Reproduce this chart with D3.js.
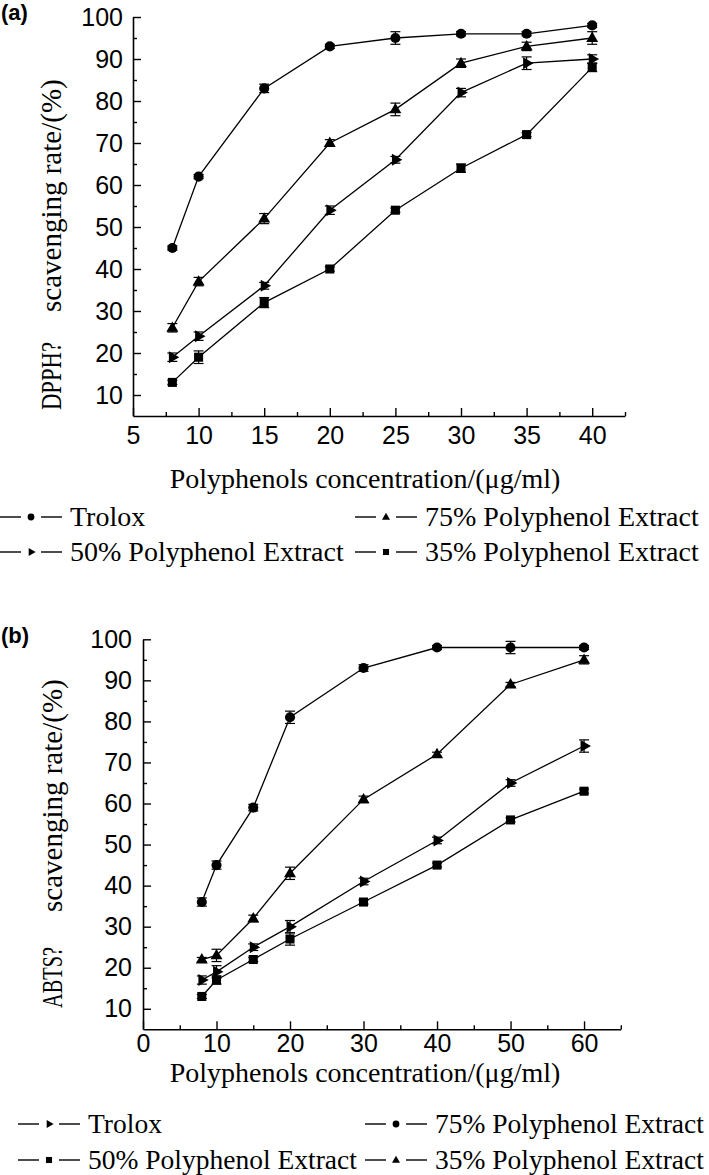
<!DOCTYPE html>
<html>
<head>
<meta charset="utf-8">
<script src="https://cdn.jsdelivr.net/npm/d3@7/dist/d3.min.js"></script>
<style>
  html, body { margin: 0; padding: 0; background: #fff; }
  svg { display: block; }
  .serif { font-family: "Liberation Serif", "Times New Roman", "DejaVu Serif", serif; }
  .sans { font-family: "Liberation Sans", Arial, sans-serif; }
</style>
</head>
<body>
<svg id="chart" width="709" height="1175"></svg>
<script>
// ---------------- DATA ----------------
// Panel (a) DPPH
const concA = [8, 10, 15, 20, 25, 30, 35, 40];
const dpphTrolox = [45, 62, 83, 93, 95, 96, 96, 98];
const dpph75 = [26, 37, 52, 70, 78, 89, 93, 95];
const dpph50 = [19, 24, 36, 54, 66, 82, 89, 90];
const dpph35 = [13, 19, 32, 40, 54, 64, 72, 88];
const dpphTroloxErr = [0.5, 0.5, 1, 0.5, 1.5, 0.5, 0.5, 0.5];
const dpph75Err = [1, 1, 1.2, 0.8, 1.5, 1, 1, 1.5];
const dpph50Err = [1, 1, 0.8, 1, 0.8, 1, 1.5, 1];
const dpph35Err = [0.5, 1.5, 1.2, 0.5, 0.5, 1, 0.5, 1];
const xTicksA = [5, 10, 15, 20, 25, 30, 35, 40];
const legendLabelsA = ["Trolox", "75% Polyphenol Extract", "50% Polyphenol Extract", "35% Polyphenol Extract"];

// Panel (b) ABTS (legend labels as printed in the figure)
const concB = [8, 10, 15, 20, 30, 40, 50, 60];
const abtsTrolox = [17, 19, 25, 30, 41, 51, 65, 74];      // right-triangle
const abts75 = [36, 45, 59, 81, 93, 98, 98, 98];          // circle
const abts50 = [13, 17, 22, 27, 36, 45, 56, 63];          // square
const abts35 = [22, 23, 32, 43, 61, 72, 89, 95];          // triangle
const abtsTroloxErr = [1, 1.5, 0.8, 1.5, 0.8, 0.8, 0.8, 1.5];
const abts75Err = [1, 1, 0.8, 1.5, 0.8, 0.5, 1.5, 0.5];
const abts50Err = [0.5, 1, 0.5, 1.5, 0.5, 0.5, 0.5, 0.5];
const abts35Err = [0.5, 1.5, 0.8, 1.5, 0.8, 0.5, 0.5, 1];
const xTicksB = [0, 10, 20, 30, 40, 50, 60];
const legendLabelsB = ["Trolox", "75% Polyphenol Extract", "50% Polyphenol Extract", "35% Polyphenol Extract"];

const yTicks = [10, 20, 30, 40, 50, 60, 70, 80, 90, 100];
const xTitle = "Polyphenols concentration/(\u03bcg/ml)";

// ---------------- DRAW ----------------
const svg = d3.select("#chart");

function markerPath(type, big) {
  const s = big ? 1 : 0.45;
  const map = {
    circle: [d3.symbolCircle, 80],
    square: [d3.symbolSquare, 82],
    triangle: [d3.symbolTriangle, 62],
    rtri: [d3.symbolTriangle, 62]
  };
  return d3.symbol().type(map[type][0]).size(map[type][1] * s)();
}
function markerTransform(type, x, y) {
  if (type === "rtri") return `translate(${x},${y}) rotate(90)`;
  if (type === "triangle") return `translate(${x},${y + 0.5})`;
  return `translate(${x},${y})`;
}

function drawPanel(cfg) {
  const g = svg.append("g");
  const x = d3.scaleLinear().domain(cfg.xDomain).range(cfg.xRange);
  const y = d3.scaleLinear().domain([5, 100]).range(cfg.yRange);

  // minor ticks
  const yMinor = d3.range(15, 100, 10);
  g.append("g").attr("transform", `translate(${cfg.xRange[0]},0)`)
    .call(d3.axisLeft(y).tickValues(yMinor).tickSizeInner(-4).tickSizeOuter(0).tickFormat(""))
    .call(a => a.select(".domain").remove())
    .call(a => a.selectAll("line").attr("stroke-width", 1.4));
  g.append("g").attr("transform", `translate(0,${cfg.yRange[0]})`)
    .call(d3.axisBottom(x).tickValues(cfg.xMinor).tickSizeInner(-4).tickSizeOuter(0).tickFormat(""))
    .call(a => a.select(".domain").remove())
    .call(a => a.selectAll("line").attr("stroke-width", 1.4));

  // major ticks
  const ya = g.append("g").attr("transform", `translate(${cfg.xRange[0]},0)`)
    .call(d3.axisLeft(y).tickValues(yTicks).tickSizeInner(-8).tickSizeOuter(0).tickPadding(cfg.yPad));
  const xa = g.append("g").attr("transform", `translate(0,${cfg.yRange[0]})`)
    .call(d3.axisBottom(x).tickValues(cfg.xTicks).tickSizeInner(-8).tickSizeOuter(0).tickPadding(cfg.xPad));
  [ya, xa].forEach(a => {
    a.attr("font-family", null).attr("font-size", null);
    a.select(".domain").attr("stroke-width", 1.6);
    a.selectAll("line").attr("stroke-width", 1.4);
    a.selectAll("text").attr("class", "sans").attr("font-size", 25).attr("fill", "#000");
  });

  // series
  cfg.series.forEach(s => {
    const pts = cfg.xs.map((xv, i) => ({ x: xv, y: s.values[i], e: s.err[i] }));
    g.append("path").datum(pts)
      .attr("fill", "none").attr("stroke", "#000").attr("stroke-width", 1.3)
      .attr("d", d3.line().x(d => x(d.x)).y(d => y(d.y)));
    const eb = g.append("g");
    pts.forEach(p => {
      const cx = x(p.x), y1 = y(p.y + p.e), y2 = y(p.y - p.e);
      eb.append("line").attr("x1", cx).attr("x2", cx).attr("y1", y1).attr("y2", y2).attr("stroke", "#000").attr("stroke-width", 1.2);
      [y1, y2].forEach(yy => eb.append("line").attr("x1", cx - 5).attr("x2", cx + 5).attr("y1", yy).attr("y2", yy).attr("stroke", "#000").attr("stroke-width", 1.2));
    });
    g.append("g").selectAll("path").data(pts).join("path")
      .attr("d", markerPath(s.marker, true))
      .attr("transform", d => markerTransform(s.marker, x(d.x), y(d.y)))
      .attr("fill", "#000");
  });

  // y title (first word condensed as in the figure)
  g.append("text").text(cfg.yWord).attr("class", "serif")
    .attr("transform", `translate(${cfg.yTitleX},${cfg.yWordStart}) rotate(-90)`)
    .attr("font-size", 29)
    .attr("textLength", cfg.yWordLen).attr("lengthAdjust", "spacingAndGlyphs");
  g.append("text").text("scavenging rate/(%)").attr("class", "serif")
    .attr("transform", `translate(${cfg.yTitleX},${cfg.yRestStart}) rotate(-90)`)
    .attr("font-size", 29);

  // x title
  g.append("text").text(xTitle).attr("class", "serif")
    .attr("x", 365).attr("y", cfg.xTitleY).attr("text-anchor", "middle")
    .attr("font-size", 28);

  // panel label
  g.append("text").text(cfg.label).attr("class", "sans")
    .attr("x", 1).attr("y", cfg.labelY)
    .attr("font-weight", "bold").attr("font-size", 22);

  // legend
  cfg.legend.forEach(it => {
    const lg = g.append("g");
    const ly = it.base - 9;
    lg.append("line").attr("x1", it.x0).attr("x2", it.x0 + 21).attr("y1", ly).attr("y2", ly).attr("stroke", "#000").attr("stroke-width", 1.4);
    lg.append("line").attr("x1", it.x0 + 41).attr("x2", it.x0 + 62).attr("y1", ly).attr("y2", ly).attr("stroke", "#000").attr("stroke-width", 1.4);
    lg.append("path").attr("d", markerPath(it.marker, false)).attr("transform", markerTransform(it.marker, it.x0 + 31, ly)).attr("fill", "#000");
    lg.append("text").text(it.label).attr("class", "serif").attr("x", it.x0 + 70).attr("y", it.base)
      .attr("font-size", cfg.legendFont);
  });
}

drawPanel({
  xDomain: [5, 42.5], xRange: [133, 625], yRange: [416, 17],
  xTicks: xTicksA, xMinor: d3.range(7.5, 43, 5), yPad: 10, xPad: 10,
  xs: concA,
  series: [
    { values: dpphTrolox, err: dpphTroloxErr, marker: "circle" },
    { values: dpph75, err: dpph75Err, marker: "triangle" },
    { values: dpph50, err: dpph50Err, marker: "rtri" },
    { values: dpph35, err: dpph35Err, marker: "square" }
  ],
  yWord: "DPPH?", yTitleX: 61, yWordStart: 410, yWordLen: 68, yRestStart: 312,
  xTitleY: 488, label: "(a)", labelY: 20, legendFont: 28,
  legend: [
    { x0: 0, base: 526, marker: "circle", label: legendLabelsA[0] },
    { x0: 355, base: 526, marker: "triangle", label: legendLabelsA[1] },
    { x0: 0, base: 561, marker: "rtri", label: legendLabelsA[2] },
    { x0: 355, base: 561, marker: "square", label: legendLabelsA[3] }
  ]
});

drawPanel({
  xDomain: [0, 65], xRange: [143, 620.8], yRange: [1029.3, 639.3],
  xTicks: xTicksB, xMinor: d3.range(5, 66, 10), yPad: 11, xPad: 5,
  xs: concB,
  series: [
    { values: abts75, err: abts75Err, marker: "circle" },
    { values: abts35, err: abts35Err, marker: "triangle" },
    { values: abtsTrolox, err: abtsTroloxErr, marker: "rtri" },
    { values: abts50, err: abts50Err, marker: "square" }
  ],
  yWord: "ABTS?", yTitleX: 62, yWordStart: 1008, yWordLen: 61, yRestStart: 912,
  xTitleY: 1082, label: "(b)", labelY: 643, legendFont: 27.5,
  legend: [
    { x0: 18, base: 1133, marker: "rtri", label: legendLabelsB[0] },
    { x0: 365, base: 1133, marker: "circle", label: legendLabelsB[1] },
    { x0: 18, base: 1169, marker: "square", label: legendLabelsB[2] },
    { x0: 365, base: 1169, marker: "triangle", label: legendLabelsB[3] }
  ]
});
</script>
</body>
</html>
